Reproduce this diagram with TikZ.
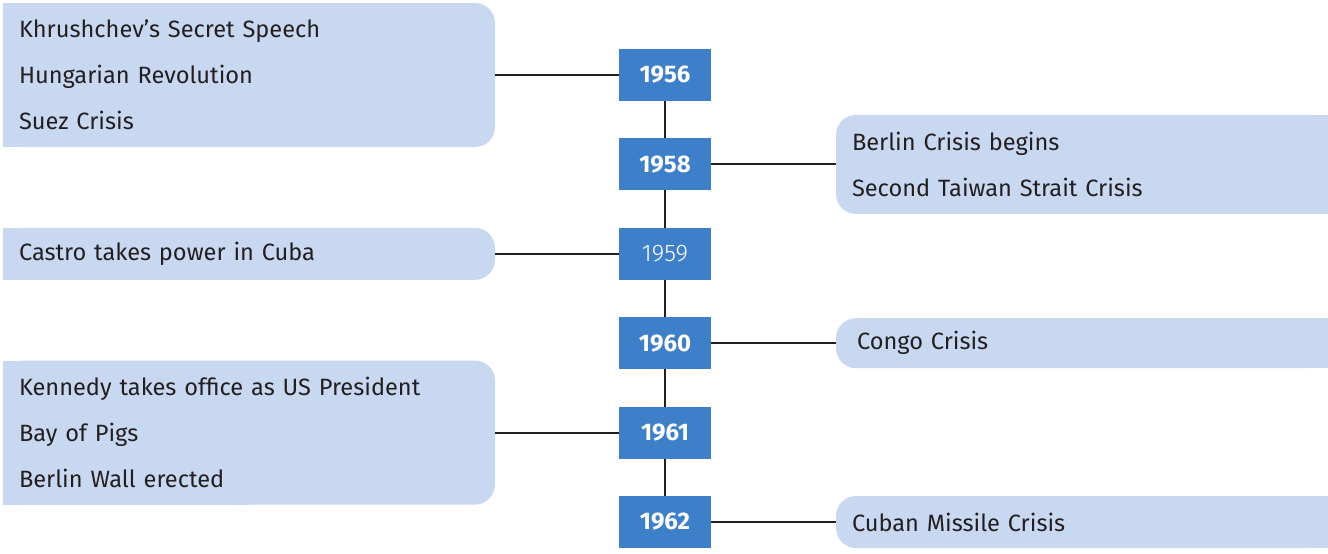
\documentclass[tikz,border=0pt]{standalone}
\usepackage{fontspec}
\setmainfont{Fira Sans}
\newfontfamily\lightfont{Fira Sans Light}
\usetikzlibrary{positioning,backgrounds}

\definecolor{yearblue}{HTML}{3D80C9}
\definecolor{eventblue}{HTML}{C9D8F1}
\definecolor{inkdark}{HTML}{231F20}

\begin{document}
\begin{tikzpicture}[x=0.5pt,y=-0.5pt]
    \tikzstyle{year} = [rectangle, minimum width=46pt, minimum height=26pt, inner sep=0pt, outer sep=0pt, fill=yearblue, text=white, font=\fontsize{12}{14}\selectfont\bfseries]
    \tikzstyle{event} = [rectangle, rounded corners=10pt, fill=eventblue, text=inkdark, text width=230pt, inner xsep=8pt, inner ysep=0pt, outer sep=0pt, align=left, font=\fontsize{11.8}{23}\selectfont]
    \tikzstyle{link} = [line width=1pt, draw=inkdark]

    \useasboundingbox (0,0) rectangle (1328,553);

    % Years
    \node (y56) [year] at (665,75) {1956};
    \node (y58) [year, below=18.7pt of y56] {1958};
    \node (y59) [year, below=18.7pt of y58, font=\fontsize{12}{14}\selectfont\lightfont] {1959};
    \node (y60) [year, below=18.7pt of y59] {1960};
    \node (y61) [year, below=18.7pt of y60] {1961};
    \node (y62) [year, below=18.7pt of y61] {1962};

    % Events
    \node (e56) [event, minimum height=72pt, left=62pt of y56] {Khrushchev’s Secret Speech\\Hungarian Revolution\\Suez Crisis};
    \node (e58) [event, minimum height=49.5pt, right=62.5pt of y58] {Berlin Crisis begins\\Second Taiwan Strait Crisis};
    \node (e59) [event, minimum height=26pt, left=62pt of y59] {Castro takes power in Cuba};
    \node (e60) [event, minimum height=25pt, right=62.5pt of y60] {\hspace*{2.5pt}Congo Crisis};
    \node (e61) [event, minimum height=72pt, left=62pt of y61] {Kennedy takes office as US President\\Bay of Pigs\\Berlin Wall erected};
    \node (e62) [event, minimum height=26pt, right=62.5pt of y62] {Cuban Missile Crisis};

    % square off the outer sides
    \begin{scope}[on background layer]
        \foreach \e in {e56,e59,e61}
            \fill[eventblue] (\e.north west) rectangle (\e.south);
        \foreach \e in {e58,e60,e62}
            \fill[eventblue] (\e.north) rectangle (\e.south east);
    \end{scope}

    % Links
    \draw [link] (y56) -- (y58) -- (y59) -- (y60) -- (y61) -- (y62);
    \draw [link] (y56) -- (e56);
    \draw [link] (y58) -- (e58);
    \draw [link] (y59) -- (e59);
    \draw [link] (y60) -- (e60);
    \draw [link] (y61) -- (e61);
    \draw [link] (y62) -- (e62);
\end{tikzpicture}
\end{document}
